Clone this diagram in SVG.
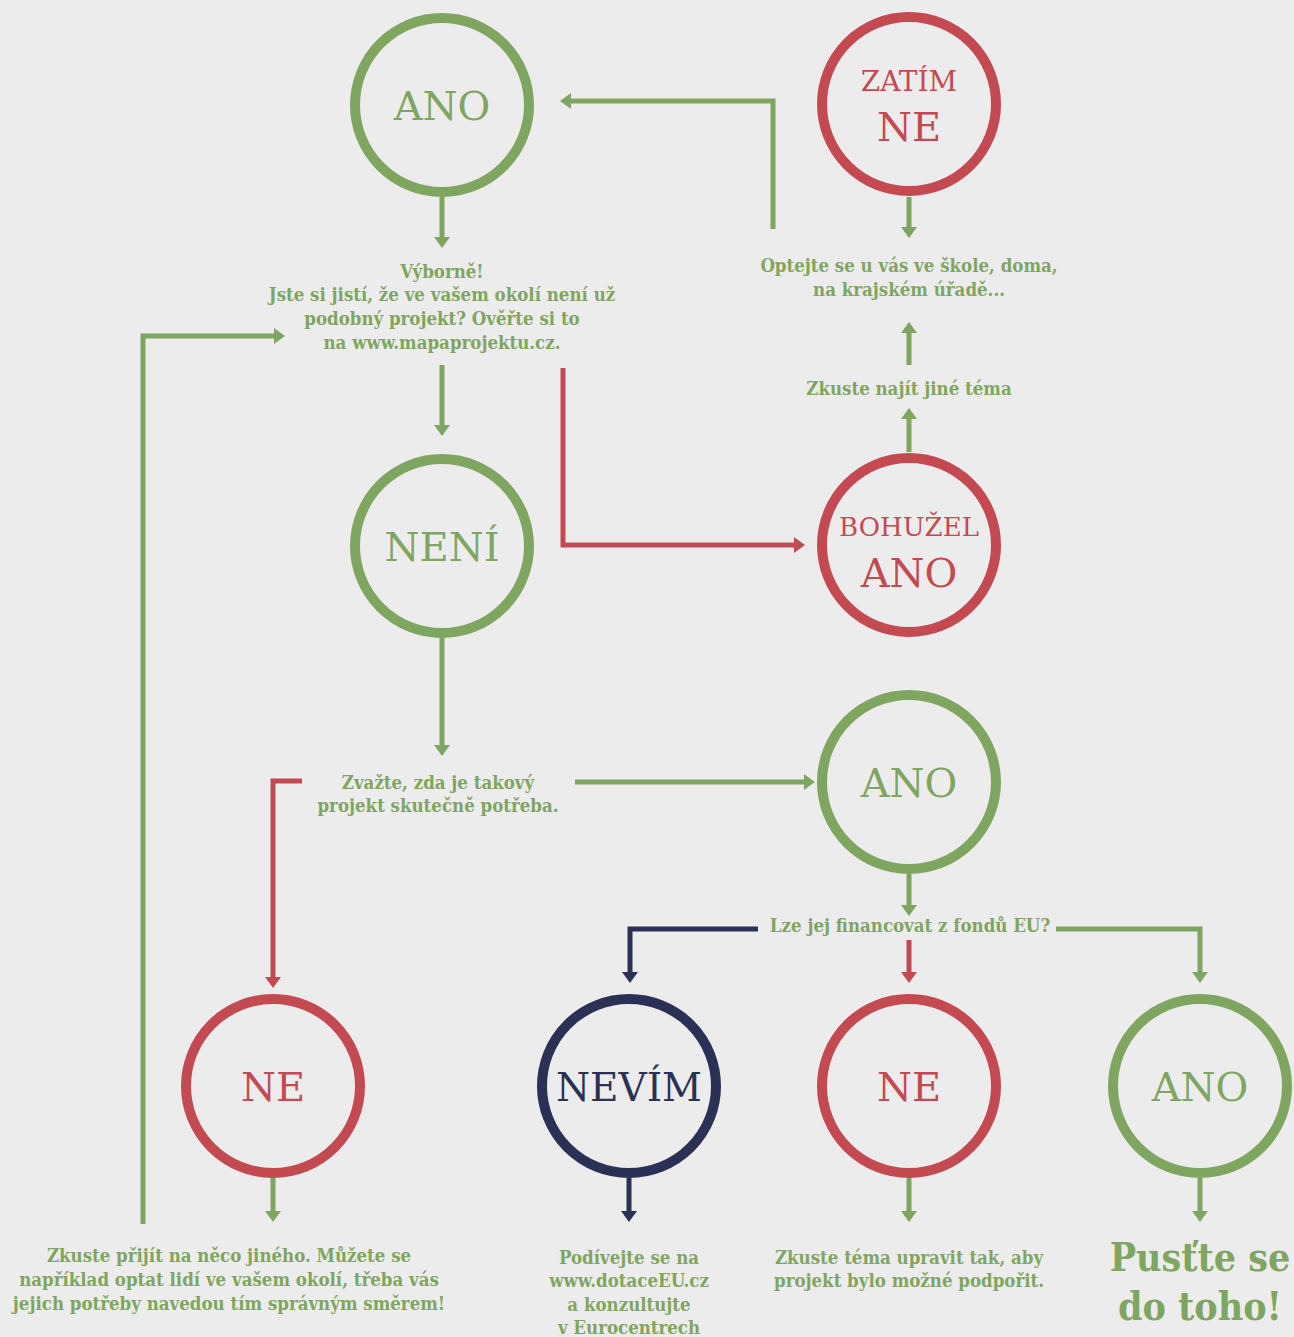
<svg xmlns="http://www.w3.org/2000/svg" width="1294" height="1337" viewBox="0 0 1294 1337">
<defs>
<style>
.g{stroke:#7fa660}.r{stroke:#c44a52}.n{stroke:#2a3154}
.c{fill:none;stroke-width:10}
.l{fill:none;stroke-width:5}
.big{font-family:"DejaVu Serif",serif;text-anchor:middle}
.t{font-family:"DejaVu Serif Condensed","DejaVu Serif",serif;font-weight:bold;font-stretch:condensed;font-size:18.5px;fill:#7fa660;text-anchor:middle}
.h{font-size:39px}
</style>
<marker id="ag" markerUnits="userSpaceOnUse" viewBox="0 0 11 16" markerWidth="11" markerHeight="16" refX="4" refY="8" orient="auto"><path d="M0,0L11,8L0,16Z" fill="#7fa660"/></marker>
<marker id="ar" markerUnits="userSpaceOnUse" viewBox="0 0 11 16" markerWidth="11" markerHeight="16" refX="4" refY="8" orient="auto"><path d="M0,0L11,8L0,16Z" fill="#c44a52"/></marker>
<marker id="an" markerUnits="userSpaceOnUse" viewBox="0 0 11 16" markerWidth="11" markerHeight="16" refX="4" refY="8" orient="auto"><path d="M0,0L11,8L0,16Z" fill="#2a3154"/></marker>
</defs>
<rect width="1294" height="1337" fill="#edecec"/>

<g id="connectors">
<path class="l g" d="M442,197V241" marker-end="url(#ag)"/>
<path class="l g" d="M773,229V101H567" marker-end="url(#ag)"/>
<path class="l g" d="M909,197V231" marker-end="url(#ag)"/>
<path class="l g" d="M909,365V329" marker-end="url(#ag)"/>
<path class="l g" d="M909,452V415" marker-end="url(#ag)"/>
<path class="l g" d="M143,1224V336H278" marker-end="url(#ag)"/>
<path class="l g" d="M442,365V429" marker-end="url(#ag)"/>
<path class="l r" d="M563,368V545H798" marker-end="url(#ar)"/>
<path class="l g" d="M442,638V749" marker-end="url(#ag)"/>
<path class="l r" d="M302,781H273V981" marker-end="url(#ar)"/>
<path class="l g" d="M575,782H808" marker-end="url(#ag)"/>
<path class="l g" d="M909,874V909" marker-end="url(#ag)"/>
<path class="l n" d="M758,929H630V976" marker-end="url(#an)"/>
<path class="l r" d="M909,940V976" marker-end="url(#ar)"/>
<path class="l g" d="M1056,929H1200V976" marker-end="url(#ag)"/>
<path class="l g" d="M273,1178V1215" marker-end="url(#ag)"/>
<path class="l n" d="M629,1178V1215" marker-end="url(#an)"/>
<path class="l g" d="M909,1178V1215" marker-end="url(#ag)"/>
<path class="l g" d="M1200,1178V1215" marker-end="url(#ag)"/>
</g>

<g id="ano-top">
<circle class="c g" cx="442" cy="105" r="87"/>
<text class="big" x="442" y="120" font-size="40" fill="#7fa660">ANO</text>
</g>
<g id="zatim-ne">
<circle class="c r" cx="909" cy="104" r="87"/>
<text class="big" x="909" y="91" font-size="28" fill="#c44a52">ZATÍM</text>
<text class="big" x="909" y="141" font-size="40" fill="#c44a52">NE</text>
</g>
<g id="vyborne">
<text class="t" x="442" y="278">Výborně!</text>
<text class="t" x="442" y="301">Jste si jistí, že ve vašem okolí není už</text>
<text class="t" x="442" y="325">podobný projekt? Ověřte si to</text>
<text class="t" x="442" y="349">na www.mapaprojektu.cz.</text>
</g>
<g id="optejte">
<text class="t" x="909" y="272">Optejte se u vás ve škole, doma,</text>
<text class="t" x="909" y="296">na krajském úřadě...</text>
</g>
<g id="zkuste-najit">
<text class="t" x="909" y="395">Zkuste najít jiné téma</text>
</g>
<g id="neni">
<circle class="c g" cx="442" cy="546" r="87"/>
<text class="big" x="442" y="561" font-size="40" fill="#7fa660">NENÍ</text>
</g>
<g id="bohuzel-ano">
<circle class="c r" cx="909" cy="545" r="87"/>
<text class="big" x="909" y="536" font-size="26" fill="#c44a52">BOHUŽEL</text>
<text class="big" x="909" y="587" font-size="40" fill="#c44a52">ANO</text>
</g>
<g id="zvazte">
<text class="t" x="438" y="789">Zvažte, zda je takový</text>
<text class="t" x="438" y="812">projekt skutečně potřeba.</text>
</g>
<g id="ano-mid">
<circle class="c g" cx="909" cy="782" r="87"/>
<text class="big" x="909" y="797" font-size="40" fill="#7fa660">ANO</text>
</g>
<g id="lze">
<text class="t" x="910" y="932">Lze jej financovat z fondů EU?</text>
</g>
<g id="ne-left">
<circle class="c r" cx="273" cy="1086" r="87"/>
<text class="big" x="273" y="1101" font-size="40" fill="#c44a52">NE</text>
</g>
<g id="nevim">
<circle class="c n" cx="629" cy="1086" r="87"/>
<text class="big" x="629" y="1101" font-size="39" fill="#2a3154">NEVÍM</text>
</g>
<g id="ne-mid">
<circle class="c r" cx="909" cy="1086" r="87"/>
<text class="big" x="909" y="1101" font-size="40" fill="#c44a52">NE</text>
</g>
<g id="ano-right">
<circle class="c g" cx="1200" cy="1086" r="87"/>
<text class="big" x="1200" y="1101" font-size="40" fill="#7fa660">ANO</text>
</g>
<g id="text-ne-left">
<text class="t" x="229" y="1262">Zkuste přijít na něco jiného. Můžete se</text>
<text class="t" x="229" y="1286">například optat lidí ve vašem okolí, třeba vás</text>
<text class="t" x="229" y="1310">jejich potřeby navedou tím správným směrem!</text>
</g>
<g id="text-nevim">
<text class="t" x="629" y="1264">Podívejte se na</text>
<text class="t" x="629" y="1287">www.dotaceEU.cz</text>
<text class="t" x="629" y="1311">a konzultujte</text>
<text class="t" x="629" y="1334">v Eurocentrech</text>
</g>
<g id="text-ne-mid">
<text class="t" x="909" y="1264">Zkuste téma upravit tak, aby</text>
<text class="t" x="909" y="1287">projekt bylo možné podpořit.</text>
</g>
<g id="text-ano-right">
<text class="t h" x="1200" y="1271">Pusťte se</text>
<text class="t h" x="1200" y="1320">do toho!</text>
</g>
</svg>
